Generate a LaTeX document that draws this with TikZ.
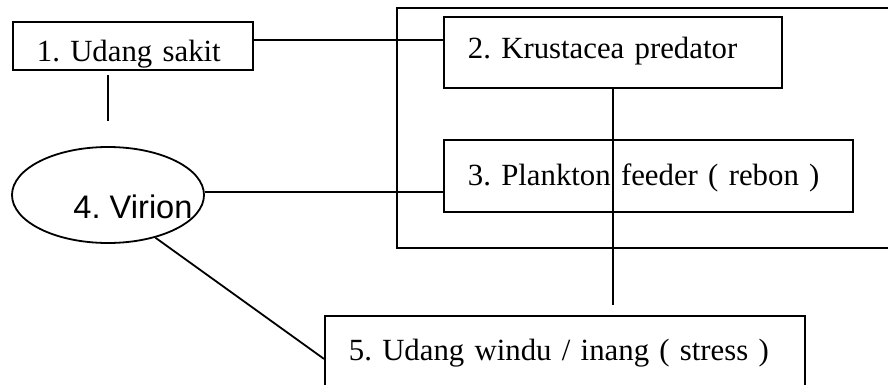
\documentclass[tikz,border=0pt]{standalone}
\usepackage{fontspec}
\setmainfont{Liberation Serif}
\newfontfamily\arialfont{Liberation Sans}
\usetikzlibrary{shapes.geometric}
\frenchspacing
\tikzset{
    kotak/.style={draw, rectangle, anchor=north west, inner xsep=12pt, inner ysep=0pt,
        text depth=0pt, align=left, font=\fontsize{15.4}{18}\selectfont},
    virion/.style={draw, ellipse, minimum width=96pt, minimum height=48pt, inner sep=0pt},
    virion teks/.style={font=\arialfont\fontsize{16.3}{18}\selectfont, inner sep=0pt}
}

\begin{document}
\begin{tikzpicture}[x=0.5pt, y=-0.5pt, line width=0.9pt]
    \useasboundingbox (0,0) rectangle (888,385);

    % Bingkai kelompok krustasea
    \node[draw, anchor=north west, minimum width=262pt, minimum height=120pt] (kelompok) at (396,7) {};

    % Simpul
    \node[kotak, text width=96pt, minimum height=24pt, text height=16pt] (sakit) at (12,21) {1. Udang sakit};
    \node[kotak, text width=145pt, minimum height=35.5pt, text height=6.5pt] (krustasea) at (443,16) {2. Krustacea predator};
    \node[kotak, text width=180.5pt, minimum height=36pt, text height=10pt] (rebon) at (443,139) {3. Plankton feeder ( rebon )};
    \node[virion, label={[virion teks, xshift=12.5pt, yshift=-5.75pt]center:4. Virion}] (virion) at (108,195) {};
    \node[kotak, text width=216pt, minimum height=43pt, text height=2pt] (udang) at (324,315) {5. Udang windu / inang ( stress )};

    % Garis penghubung
    \draw ([yshift=3pt]sakit.east) -- ([yshift=3pt]sakit.east -| krustasea.west);
    \draw ([yshift=-2pt]sakit.south -| virion.north) -- ([yshift=12.5pt]virion.north);
    \draw ([yshift=1.5pt]virion.east) -- ([yshift=1.5pt]virion.east -| rebon.west);
    \draw (virion.-42) -- (udang.west);
    \draw (krustasea.south) -- ([yshift=5pt]udang.north -| krustasea.south);
\end{tikzpicture}
\end{document}
